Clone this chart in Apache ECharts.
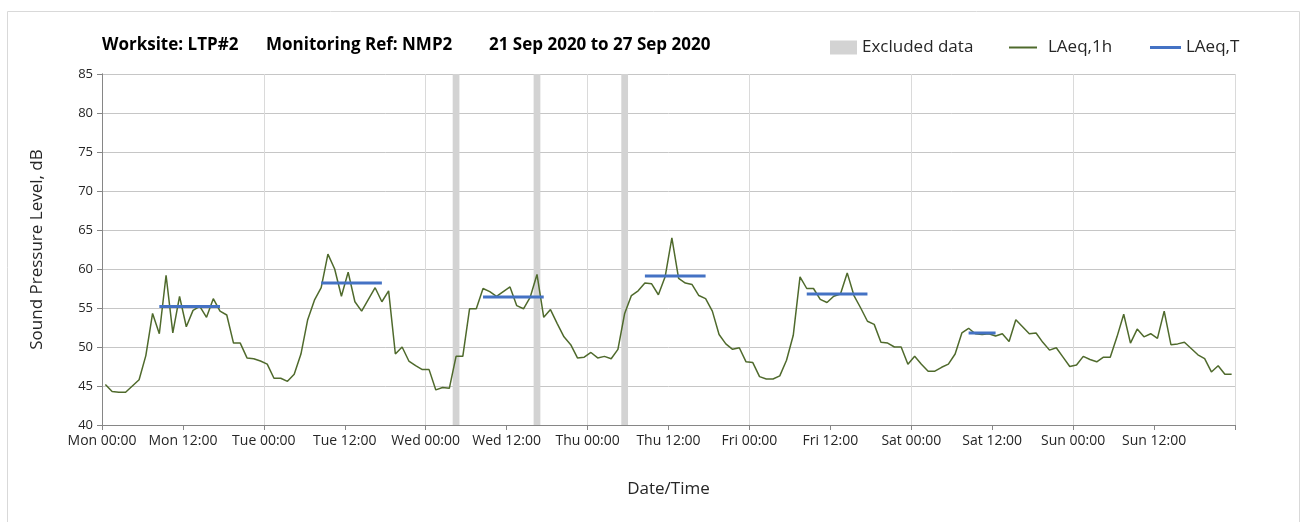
<!DOCTYPE html>
<html>
<head>
<meta charset="utf-8">
<script src="https://cdn.jsdelivr.net/npm/echarts@6/dist/echarts.min.js"></script>
<style>
  html, body { margin: 0; padding: 0; background: #fff; }
  #chart { width: 1304px; height: 522px; }
</style>
</head>
<body>
<div id="chart"></div>
<script>
// hourly LAeq,1h, Mon 00:00 .. Sun 23:00
var laeq1h = [
  45.2, 44.3, 44.2, 44.2, 45.0, 45.8, 48.9, 54.3, 51.7, 59.2, 51.8, 56.5,
  52.6, 54.7, 55.2, 53.8, 56.2, 54.6, 54.1, 50.5, 50.5, 48.6, 48.5, 48.2,
  47.8, 46.0, 46.0, 45.6, 46.5, 49.1, 53.5, 56.0, 57.6, 61.9, 60.0, 56.5,
  59.6, 55.8, 54.6, 56.1, 57.6, 55.8, 57.2, 49.1, 50.0, 48.2, 47.6, 47.1,
  47.1, 44.5, 44.8, 44.7, 48.8, 48.8, 54.9, 54.9, 57.5, 57.1, 56.5, 57.1,
  57.7, 55.3, 54.9, 56.4, 59.3, 53.8, 54.8, 53.0, 51.3, 50.3, 48.6, 48.7,
  49.3, 48.6, 48.8, 48.5, 49.7, 54.3, 56.6, 57.2, 58.2, 58.1, 56.7, 59.0,
  64.0, 58.8, 58.2, 58.0, 56.6, 56.2, 54.6, 51.6, 50.4, 49.7, 49.9, 48.1,
  48.0, 46.2, 45.9, 45.9, 46.3, 48.3, 51.5, 59.0, 57.5, 57.5, 56.1, 55.7,
  56.5, 56.8, 59.5, 56.6, 55.0, 53.3, 52.9, 50.6, 50.5, 50.0, 50.0, 47.8,
  48.8, 47.8, 46.9, 46.9, 47.4, 47.8, 49.1, 51.8, 52.4, 51.7, 51.6, 51.7,
  51.4, 51.7, 50.7, 53.5, 52.6, 51.7, 51.8, 50.6, 49.6, 49.9, 48.7, 47.5,
  47.7, 48.8, 48.4, 48.1, 48.7, 48.7, 51.3, 54.2, 50.5, 52.3, 51.3, 51.7,
  51.1, 54.6, 50.3, 50.4, 50.6, 49.8, 49.0, 48.5, 46.8, 47.6, 46.5, 46.5
];

// LAeq,T daytime periods (hour index from / to, level)
var periodFrom = [8, 32, 56, 80, 104, 128];
var periodTo = [17, 41, 65, 89, 113, 132];
var periodLevel = [55.2, 58.2, 56.4, 59.1, 56.8, 51.8];

// excluded data windows, hours from Mon 00:00
var excludedFrom = [52, 64, 77];
var excludedTo = [53, 65, 78];

var dayNames = ['Mon', 'Tue', 'Wed', 'Thu', 'Fri', 'Sat', 'Sun'];
var yTicks = [40, 45, 50, 55, 60, 65, 70, 75, 80, 85];

var FONT = 'Open Sans';
var GREEN = '#4f6a2c';
var BLUE = '#4472c4';
var GREY = '#d3d3d3';

var lineData = laeq1h.map(function (v, i) { return [i + 0.5, v]; });

var excludedAreas = excludedFrom.map(function (a, i) {
  return [{ xAxis: a }, { xAxis: excludedTo[i] }];
});

var series = [
  {
    name: 'Excluded data',
    type: 'line',
    data: [],
    itemStyle: { color: GREY },
    markArea: {
      silent: true,
      itemStyle: { color: GREY },
      data: excludedAreas
    }
  },
  {
    name: 'LAeq,1h',
    type: 'line',
    data: lineData,
    showSymbol: false,
    symbol: 'none',
    lineStyle: { color: GREEN, width: 1.5 },
    itemStyle: { color: GREEN },
    z: 3
  }
];

periodFrom.forEach(function (a, i) {
  series.push({
    name: 'LAeq,T',
    type: 'line',
    data: [[a + 0.5, periodLevel[i]], [periodTo[i] + 0.5, periodLevel[i]]],
    symbol: 'none',
    lineStyle: { color: BLUE, width: 3 },
    itemStyle: { color: BLUE },
    z: 4
  });
});

var titleFont = { fontSize: 17, fontWeight: 'bold', color: '#000', fontFamily: FONT };
var legendFont = { fontSize: 17, color: '#262626', fontFamily: FONT };

var chart = echarts.init(document.getElementById('chart'));
chart.setOption({
  animation: false,
  textStyle: { fontFamily: FONT },
  title: [
    { text: 'Worksite: LTP#2', left: 97, top: 32, textStyle: titleFont },
    { text: 'Monitoring Ref: NMP2', left: 261, top: 32, textStyle: titleFont },
    { text: '21 Sep 2020 to 27 Sep 2020', left: 484, top: 32, textStyle: titleFont }
  ],
  legend: [
    {
      data: [{ name: 'Excluded data', icon: 'rect' }],
      left: 825, top: 34, itemWidth: 27, itemHeight: 14, itemGap: 4,
      textStyle: legendFont
    },
    {
      data: [{ name: 'LAeq,1h', icon: 'rect' }],
      left: 1004, top: 34, itemWidth: 28, itemHeight: 2, itemGap: 4,
      textStyle: Object.assign({ padding: [0, 0, 0, 6] }, legendFont)
    },
    {
      data: [{ name: 'LAeq,T', icon: 'rect' }],
      left: 1145, top: 34, itemWidth: 31, itemHeight: 3, itemGap: 4,
      textStyle: legendFont
    }
  ],
  grid: { left: 102, right: 69, top: 74, bottom: 97, containLabel: false },
  xAxis: [
    {
      type: 'value', min: 0, max: 168, interval: 12,
      name: 'Date/Time', nameLocation: 'middle', nameGap: 56,
      nameTextStyle: { fontSize: 17, color: '#262626' },
      axisLine: { lineStyle: { color: '#868686' } },
      axisTick: { show: true, length: 5, lineStyle: { color: '#868686' } },
      axisLabel: {
        fontSize: 14, color: '#262626', margin: 9,
        formatter: function (v) {
          var d = Math.floor(v / 24);
          if (d > 6) return '';
          return dayNames[d] + ' ' + (v % 24 === 0 ? '00:00' : '12:00');
        }
      },
      splitLine: { show: false }
    },
    {
      type: 'value', min: 0, max: 168, interval: 24, position: 'bottom',
      axisLine: { show: false }, axisTick: { show: false }, axisLabel: { show: false },
      splitLine: { show: true, lineStyle: { color: '#dadada', width: 1 } }
    }
  ],
  yAxis: [
    {
      type: 'value', min: yTicks[0], max: yTicks[yTicks.length - 1], interval: 5,
      name: 'Sound Pressure Level, dB', nameLocation: 'middle', nameGap: 56,
      nameTextStyle: { fontSize: 17, color: '#262626' },
      axisLine: { show: true, lineStyle: { color: '#868686' } },
      axisTick: { show: true, length: 5, lineStyle: { color: '#868686' } },
      axisLabel: { fontSize: 13, color: '#262626', margin: 9 },
      splitLine: { show: true, lineStyle: { color: '#c6c6c6', width: 1 } }
    },
    {
      type: 'value', min: yTicks[0], max: yTicks[yTicks.length - 1], position: 'right',
      axisLine: { show: true, lineStyle: { color: '#868686' } },
      axisTick: { show: false }, axisLabel: { show: false }, splitLine: { show: false }
    }
  ],
  graphic: [
    {
      type: 'rect', left: 5, top: 9, silent: true,
      shape: { width: 1292, height: 530 },
      style: { fill: 'none', stroke: '#d9d9d9', lineWidth: 1 }
    }
  ],
  series: series
});
</script>
</body>
</html>
